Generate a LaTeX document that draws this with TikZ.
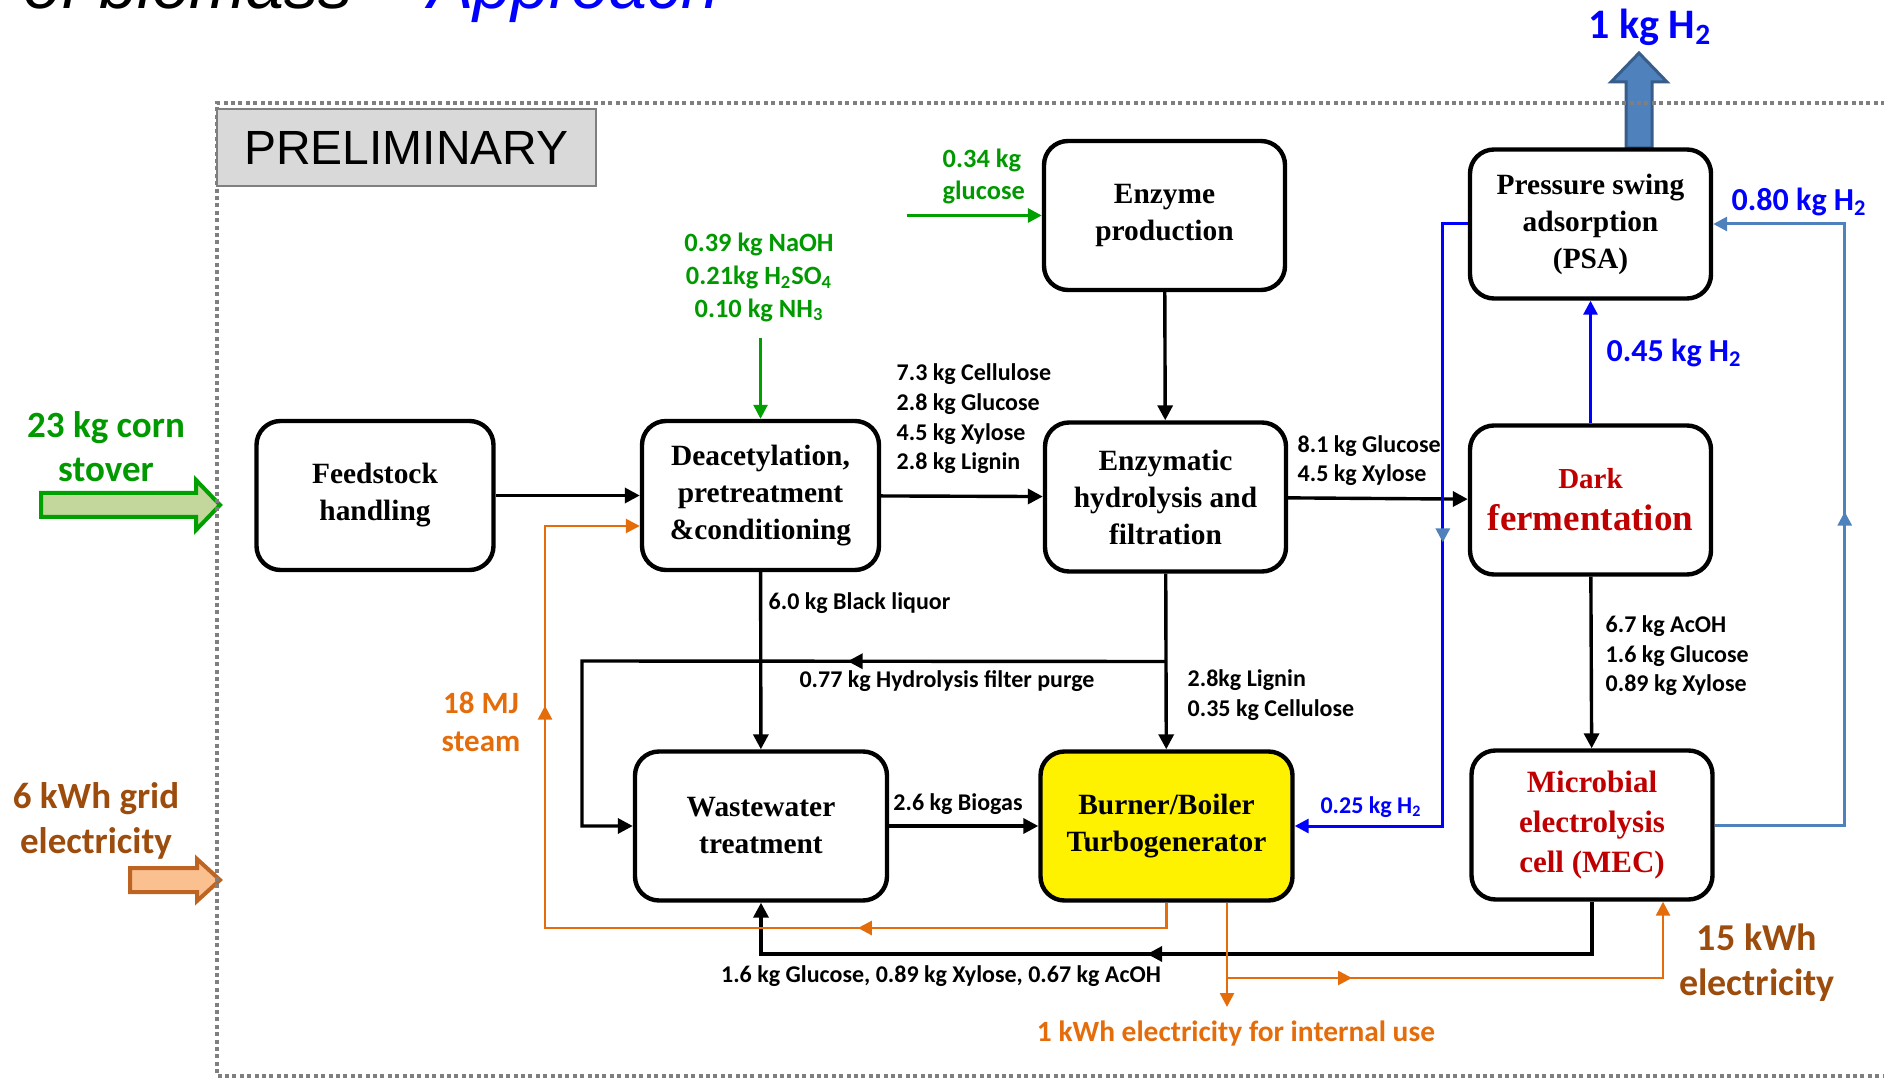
\documentclass[tikz,border=0pt]{standalone}
\usepackage{fontspec}
\setmainfont{Liberation Serif}
\newfontfamily\calibfont{Carlito}
\newfontfamily\arialfont{Liberation Sans}
\usetikzlibrary{arrows.meta,calc,decorations.markings}

\definecolor{lblgreen}{RGB}{0,153,0}
\definecolor{arrgreen}{RGB}{0,160,0}
\definecolor{stovefill}{RGB}{195,214,155}
\definecolor{elecbrown}{RGB}{156,76,12}
\definecolor{steamorange}{RGB}{228,108,10}
\definecolor{gridedge}{RGB}{190,100,35}
\definecolor{gridfill}{RGB}{250,192,144}
\definecolor{hblue}{RGB}{0,0,255}
\definecolor{steel}{RGB}{79,129,189}
\definecolor{steeldark}{RGB}{56,93,138}
\definecolor{darkred}{RGB}{192,0,0}
\definecolor{framegray}{RGB}{127,127,127}
\definecolor{prelimfill}{RGB}{217,217,217}

\tikzset{every picture/.style={line width=1.7pt}}
\tikzset{
  procbox/.style={draw, line width=2.2pt, rounded corners=12pt, fill=white, align=center,
    inner sep=0pt, minimum width=120.5pt, minimum height=74.5pt,
    font=\fontsize{14.7}{18.5}\selectfont\bfseries},
  conn/.style={-{Triangle[length=7.5pt,width=7.5pt]}},
  thinconn/.style={line width=1.3pt, -{Triangle[length=7pt,width=7pt]}},
  midarrow/.style={postaction={decorate,decoration={markings,
    mark=at position #1 with {\arrow{Triangle[length=7.5pt,width=7.5pt]}}}}},
  midarrowc/.style 2 args={postaction={decorate,decoration={markings,
    mark=at position #1 with {\arrow[#2]{Triangle[length=7pt,width=7pt]}}}}},
  flowlbl/.style={inner sep=0pt, align=left, font=\calibfont\fontsize{12}{14.8}\selectfont\bfseries},
  chemlbl/.style={inner sep=0pt, text=lblgreen, font=\calibfont\fontsize{13.2}{16.3}\selectfont\bfseries},
  biglbl/.style={inner sep=0pt, align=center, font=\calibfont\fontsize{18.5}{22.3}\selectfont\bfseries},
  steamlbl/.style={inner sep=0pt, align=center, text=steamorange, font=\calibfont\fontsize{15.5}{19}\selectfont\bfseries},
  h2lbl/.style={inner sep=0pt, text=hblue, font=\calibfont\fontsize{16}{19}\selectfont\bfseries},
}

\begin{document}
\begin{tikzpicture}[x=0.5pt,y=0.5pt,yscale=-1,xscale=1]
\useasboundingbox (0,0) rectangle (1884,1079);

% Title (cut at the top)
\node [anchor=base west, inner sep=0pt, font=\arialfont\itshape\fontsize{34}{40}\selectfont] (title) at (22,9) {of biomass – \textcolor{hblue}{Approach}};

% Big arrows
\draw [steeldark, fill=steel, line width=1.5pt] (1626,148) -- (1626,82) -- (1611,82) -- (1639,53) -- (1667,82) -- (1652,82) -- (1652,148) -- cycle;
\draw [arrgreen, fill=stovefill, line width=2pt] (41,493) -- (196,493) -- (196,480) -- (220,505) -- (196,530) -- (196,517) -- (41,517) -- cycle;
\draw [gridedge, fill=gridfill, line width=2pt] (130,868) -- (197,868) -- (197,859) -- (220,880) -- (197,901) -- (197,892) -- (130,892) -- cycle;

% Frame
\draw [framegray, line width=2.2pt, dash pattern=on 2pt off 1.7pt] (1900,103) -- (217,103) -- (217,1076) -- (1900,1076);

% Text Node
\node [draw=framegray, fill=prelimfill, line width=1pt, minimum width=189.5pt, minimum height=38.5pt, inner sep=0pt, font=\arialfont\fontsize{24}{28}\selectfont] (prelim) at (406.5,147.5) {PRELIMINARY};

% Text Node
\node [procbox, minimum width=118.5pt] (feed) at (375,495.5) {Feedstock\\handling};
% Text Node
\node [procbox, minimum width=118.5pt] (deac) at (760.5,495.5) {Deacetylation,\\pretreatment\\\&conditioning};
% Text Node
\node [procbox] (enz) at (1164.5,215.5) {Enzyme\\production};
% Text Node
\node [procbox] (hyd) at (1165.5,497) {Enzymatic\\hydrolysis and\\filtration};
% Text Node
\node [procbox] (psa) at (1590.5,224) {Pressure swing\\adsorption\\(PSA)};
% Text Node
\node [procbox, text=darkred] (dark) at (1590.5,500) {{\fontsize{14.5}{18}\selectfont Dark}\\[2.5pt]{\fontsize{18.5}{22}\selectfont fermentation}};
% Text Node
\node [procbox, minimum width=126pt] (ww) at (761,826) {Wastewater\\treatment};
% Text Node
\node [procbox, minimum width=126pt, fill=yellow] (burner) at (1166.5,826) {Burner/Boiler\\Turbogenerator};
% Text Node
\node [procbox, text=darkred, font=\fontsize{15.5}{20}\selectfont\bfseries] (mec) at (1592,825) {Microbial\\electrolysis\\cell (MEC)};

% Free ends and bends
\coordinate (chemin) at ($(deac.north)+(0,-81)$);
\coordinate (glucin) at ($(enz.west)+(-135,0)$);
\coordinate (purge) at ($(hyd.south)!0.5!(burner.north)$);
\coordinate (purgebend) at (582,661);
\coordinate (steambend) at (545,928);
\coordinate (steamin) at ($(deac.west)+(0,30.5)$);
\coordinate (elecout) at ($(burner.south)+(60.5,0)$);
\coordinate (elecsplit) at (1227,978);
\coordinate (intern) at (1227,1007);
\coordinate (mecin) at ($(mec.south)+(71,0)$);
\coordinate (recyclebend) at (1592,954);

% Connection
\draw [conn] (feed) -- (deac);
% Connection
\draw [conn] (deac) -- (hyd);
% Connection
\draw [conn] (enz) -- (hyd);
% Connection
\draw [conn] (hyd) -- (dark);
% Connection
\draw [conn] (deac) -- (ww);
% Connection
\draw [conn] (hyd) -- (burner);
% Connection
\draw [conn] (ww) -- (burner);
% Connection
\draw [conn] (dark) -- (mec);
% Connection
\draw [conn, midarrow=0.398] (purge) -- (purgebend) |- (ww.west);
% Connection
\draw [conn, midarrow=0.532] (mec.south) -- (recyclebend) -| (ww.south);
% Connection
\draw [thinconn, line width=1.5pt, hblue] (dark) -- (psa);
% Connection
\draw [thinconn, line width=1.5pt, hblue, midarrowc={0.443}{steel}] (psa.west) -- ++(-25,0) |- (burner.east);
% Connection
\draw [thinconn, line width=1.5pt, steel, midarrowc={0.514}{steel}] (mec.east) -- ++(130,0) |- (psa.east);
% Connection
\draw [thinconn, steamorange, midarrowc={0.292}{steamorange}, midarrowc={0.76}{steamorange}] (burner.south) |- (steambend) |- (steamin);
% Connection
\draw [thinconn, steamorange] (elecout) -- (intern);
% Connection
\draw [thinconn, steamorange, midarrowc={0.244}{steamorange}] (elecsplit) -| (mecin);
% Connection
\draw [thinconn, arrgreen] (chemin) -- (deac.north);
% Connection
\draw [thinconn, line width=1.6pt, arrgreen] (glucin) -- (enz.west);

% Text Node
\node [flowlbl, anchor=west] (cellulose) at (895,419) {7.3 kg Cellulose\\2.8 kg Glucose\\4.5 kg Xylose\\2.8 kg Lignin};
% Text Node
\node [flowlbl, anchor=west] (sugars) at (1296,460.5) {8.1 kg Glucose\\4.5 kg Xylose};
% Text Node
\node [flowlbl, anchor=west] (blackliq) at (767,603) {6.0 kg Black liquor};
% Text Node
\node [flowlbl, anchor=west] (lignin) at (1186,695) {2.8kg Lignin\\0.35 kg Cellulose};
% Text Node
\node [flowlbl] (purgelbl) at (947,681) {0.77 kg Hydrolysis filter purge};
% Text Node
\node [flowlbl] (biogas) at (958,804) {2.6 kg Biogas};
% Text Node
\node [flowlbl] (recycle) at (941,976) {1.6 kg Glucose, 0.89 kg Xylose, 0.67 kg AcOH};
% Text Node
\node [flowlbl, anchor=west] (acoh) at (1604,656) {6.7 kg AcOH\\1.6 kg Glucose\\0.89 kg Xylose};
% Text Node
\node [chemlbl, align=center] (chem) at (759,277.5) {0.39 kg NaOH\\0.21kg H\textsubscript{2}SO\textsubscript{4}\\0.10 kg NH\textsubscript{3}};
% Text Node
\node [chemlbl, align=left, anchor=west] (glucose) at (941,176.5) {0.34 kg\\glucose};
% Text Node
\node [biglbl, text=lblgreen] (stover) at (106,446.5) {23 kg corn\\stover};
% Text Node
\node [biglbl, text=elecbrown] (grid) at (96,821) {6 kWh grid\\electricity};
% Text Node
\node [biglbl, text=elecbrown, font=\calibfont\fontsize{19}{22.5}\selectfont\bfseries] (mecpower) at (1757,963) {15 kWh\\electricity};
% Text Node
\node [steamlbl] (steam) at (481,722) {18 MJ\\steam};
% Text Node
\node [steamlbl, font=\calibfont\fontsize{14.7}{18}\selectfont\bfseries] (internal) at (1236,1033) {1 kWh electricity for internal use};
% Text Node
\node [h2lbl, anchor=west] (h2dark) at (1605,353) {0.45 kg H\textsubscript{2}};
% Text Node
\node [h2lbl, anchor=west] (h2mec) at (1730,202) {0.80 kg H\textsubscript{2}};
% Text Node
\node [h2lbl, font=\calibfont\fontsize{12}{14}\selectfont\bfseries] (h2burn) at (1371,807) {0.25 kg H\textsubscript{2}};
% Text Node
\node [h2lbl, font=\calibfont\fontsize{21}{25}\selectfont\bfseries] (h2out) at (1650,27) {1 kg H\textsubscript{2}};

\end{tikzpicture}
\end{document}
